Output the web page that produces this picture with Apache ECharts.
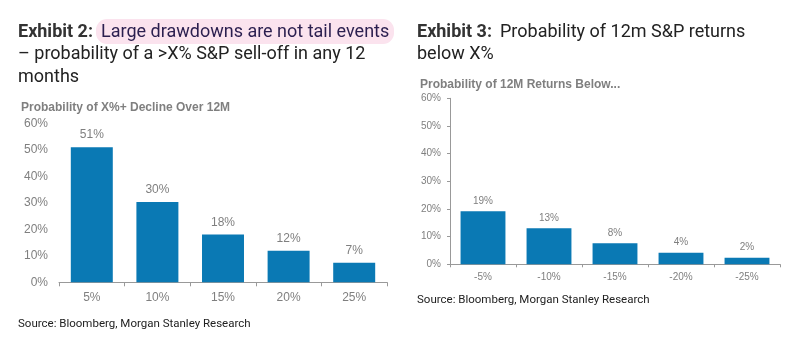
<!DOCTYPE html>
<html><head><meta charset="utf-8">
<script src="https://cdn.jsdelivr.net/npm/echarts@6/dist/echarts.min.js"></script>
<style>html,body{margin:0;padding:0;background:#fff}#c{width:787px;height:338px}</style>
</head><body><div id="c"></div>
<script>
const leftCategories = ['5%', '10%', '15%', '20%', '25%'];
const leftValues = [51, 30.3, 18, 11.9, 7.4];
const rightCategories = ['-5%', '-10%', '-15%', '-20%', '-25%'];
const rightValues = [19.2, 13, 7.6, 4.2, 2.4];

const grey = '#7f7f7f';
const blue = '#0a79b4';
const pct = v => v + '%';
const lab = p => Math.round(p.value) + '%';
const tf = '18px Roboto';
const chart = echarts.init(document.getElementById('c'));
chart.setOption({
  animation: false,
  graphic: [
    {type: 'rect', shape: {x: 96, y: 19, width: 298, height: 25, r: 11}, style: {fill: '#fbe3ee'}, z: 0},
    {type: 'text', x: 18, y: 32, style: {text: 'Exhibit 2:', font: 'bold ' + tf, fill: '#333', verticalAlign: 'middle'}, z: 2},
    {type: 'text', x: 101, y: 32, style: {text: 'Large drawdowns are not tail events', font: tf, fill: '#2b1f4f', verticalAlign: 'middle'}, z: 2},
    {type: 'text', x: 18, y: 54.5, style: {text: '– probability of a >X% S&P sell-off in any 12', font: tf, fill: '#222', verticalAlign: 'middle'}},
    {type: 'text', x: 18, y: 77, style: {text: 'months', font: tf, fill: '#222', verticalAlign: 'middle'}},
    {type: 'text', x: 417, y: 32, style: {text: 'Exhibit 3:', font: 'bold ' + tf, fill: '#333', verticalAlign: 'middle'}},
    {type: 'text', x: 500, y: 32, style: {text: 'Probability of 12m S&P returns', font: tf, fill: '#222', verticalAlign: 'middle'}},
    {type: 'text', x: 417, y: 54.5, style: {text: 'below X%', font: tf, fill: '#222', verticalAlign: 'middle'}},
    {type: 'text', x: 21, y: 108, style: {text: 'Probability of X%+ Decline Over 12M', font: 'bold 12px "Liberation Sans"', fill: grey, verticalAlign: 'middle'}},
    {type: 'text', x: 420, y: 85, style: {text: 'Probability of 12M Returns Below...', font: 'bold 12px "Liberation Sans"', fill: grey, verticalAlign: 'middle'}},
    {type: 'text', x: 18, y: 324, style: {text: 'Source: Bloomberg, Morgan Stanley Research', font: '11.5px Roboto', fill: '#222', verticalAlign: 'middle'}},
    {type: 'text', x: 417, y: 300, style: {text: 'Source: Bloomberg, Morgan Stanley Research', font: '11.5px Roboto', fill: '#222', verticalAlign: 'middle'}}
  ],
  grid: [
    {left: 59, right: 400, top: 123.3, bottom: 55.7},
    {left: 450, right: 7, top: 98.3, bottom: 73.7}
  ],
  xAxis: [
    {gridIndex: 0, type: 'category', data: leftCategories,
     axisLine: {lineStyle: {color: '#999'}}, axisTick: {show: true, length: 4, lineStyle: {color: '#999'}},
     axisLabel: {color: grey, fontSize: 12, fontFamily: 'Liberation Sans', margin: 9}},
    {gridIndex: 1, type: 'category', data: rightCategories,
     axisLine: {lineStyle: {color: '#999'}}, axisTick: {show: true, length: 3, lineStyle: {color: '#999'}},
     axisLabel: {color: grey, fontSize: 10, fontFamily: 'Liberation Sans', margin: 8}}
  ],
  yAxis: [
    {gridIndex: 0, type: 'value', min: 0, max: 60, interval: 10, splitLine: {show: false},
     axisLine: {show: false}, axisTick: {show: false},
     axisLabel: {formatter: pct, color: grey, fontSize: 12, fontFamily: 'Liberation Sans', margin: 11}},
    {gridIndex: 1, type: 'value', min: 0, max: 60, interval: 10, splitLine: {show: false},
     axisLine: {show: true, lineStyle: {color: '#999'}}, axisTick: {show: true, length: 3, lineStyle: {color: '#999'}},
     axisLabel: {formatter: pct, color: grey, fontSize: 10, fontFamily: 'Liberation Sans', margin: 9}}
  ],
  series: [
    {type: 'bar', xAxisIndex: 0, yAxisIndex: 0, data: leftValues, barCategoryGap: '36%',
     itemStyle: {color: blue},
     label: {show: true, position: 'top', formatter: lab, color: grey, fontSize: 12, fontFamily: 'Liberation Sans', distance: 6}},
    {type: 'bar', xAxisIndex: 1, yAxisIndex: 1, data: rightValues, barCategoryGap: '32%',
     itemStyle: {color: blue},
     label: {show: true, position: 'top', formatter: lab, color: grey, fontSize: 10, fontFamily: 'Liberation Sans', distance: 5}}
  ]
});
</script></body></html>
